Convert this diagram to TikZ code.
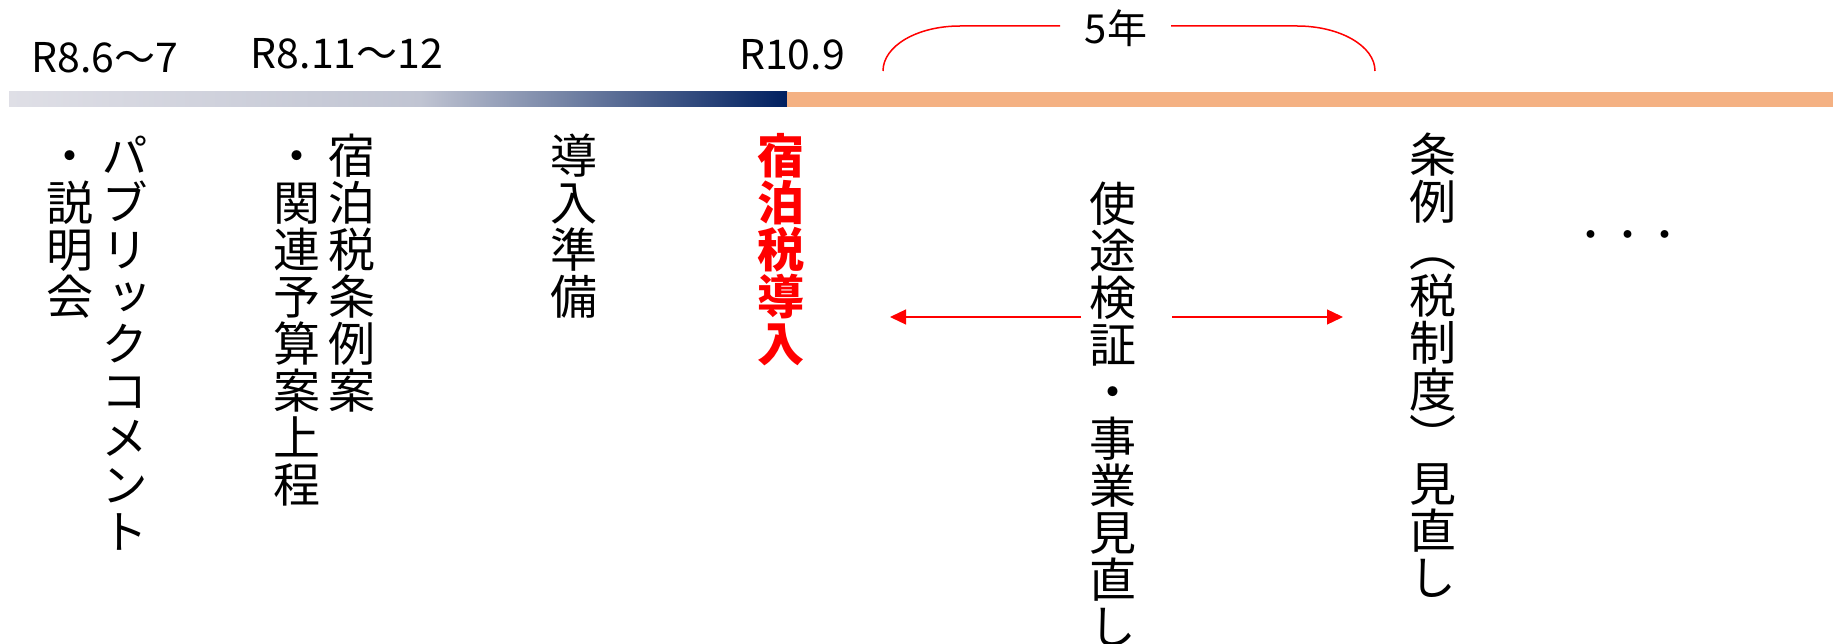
\documentclass[tikz,border=0pt]{standalone}
\usepackage{fontspec}
\setmainfont{Noto Sans CJK JP}
\newfontfamily\vfont[RawFeature={+vert}]{Noto Sans CJK JP}
\usetikzlibrary{arrows.meta}
\definecolor{barL}{HTML}{DFDFE6}
\definecolor{barM}{HTML}{C0C4D2}
\definecolor{barR}{HTML}{002060}
\definecolor{barO}{HTML}{F4B183}
\definecolor{myred}{HTML}{FF0000}
\ExplSyntaxOn
\NewDocumentCommand\vstack{m}{
  \vbox{\offinterlineskip
    \tl_map_inline:nn {#1} {\hbox~to~1em{\hss\rule[-0.12em]{0pt}{1em}##1\hss}}
  }
}
\ExplSyntaxOff
\begin{document}
\begin{tikzpicture}[x=1pt,y=-1pt,
  lbl/.style={font=\fontsize{41}{41}\selectfont, inner sep=0pt, anchor=base},
  vcol/.style={font=\vfont\fontsize{47}{47}\selectfont, inner sep=0pt, anchor=north},
  redline/.style={draw=myred, line width=1.5pt},
  arr/.style={draw=myred, line width=1.3pt, -{Triangle[length=16pt,width=15pt]}}
]
\useasboundingbox (0,0) rectangle (1833,644);
\fill[white] (0,0) rectangle (1833,644);
% timeline bar
\shade[left color=barL,right color=barM] (9,92) rectangle (421,107);
\shade[left color=barM,right color=barR] (420,92) rectangle (787,107);
\fill[barO] (787,92) rectangle (1833,107);
% date labels
\node[lbl] (t1) at (105,73) {R8.6～7};
\node[lbl] (t2) at (347,69) {R8.11～12};
\node[lbl] (t3) at (792,70) {R10.9};
\node[font=\fontsize{40}{40}\selectfont, inner sep=0pt, anchor=base] (five) at (1116,44) {5年};
% bracket
\draw[redline] (883,71) .. controls (883,46) and (917,26) .. (960,26) -- (1060,26);
\draw[redline] (1171,26) -- (1297,26) .. controls (1340,26) and (1375,46) .. (1375,71);
% vertical texts
\node[vcol] (pc) at (125,132) {\vstack{パブリックコメント}};
\node[vcol] (ss) at (70,132) {\vstack{・説明会}};
\node[vcol] (jz) at (352,132) {\vstack{宿泊税条例案}};
\node[vcol] (kr) at (297,132) {\vstack{・関連予算案上程}};
\node[vcol] (dj) at (574,132) {\vstack{導入準備}};
\node[vcol, text=myred, font=\vfont\bfseries\fontsize{47}{47}\selectfont] (sd) at (781,132) {\vstack{宿泊税導入}};
\node[vcol] (sk) at (1113,180) {\vstack{使途検証・事業見直し}};
\node[vcol] (jr) at (1433,131) {\vstack{条例（税制度）見直し}};
\node[font=\fontsize{37}{37}\selectfont, inner sep=0pt, anchor=base] (dots) at (1628,249) {・・・};
% arrows
\coordinate (la) at (890,317);
\coordinate (ra) at (1343,317);
\coordinate (gl) at (1081,317);
\coordinate (gr) at (1172,317);
\draw[arr] (gl) -- (la);
\draw[arr] (gr) -- (ra);
\end{tikzpicture}
\end{document}
